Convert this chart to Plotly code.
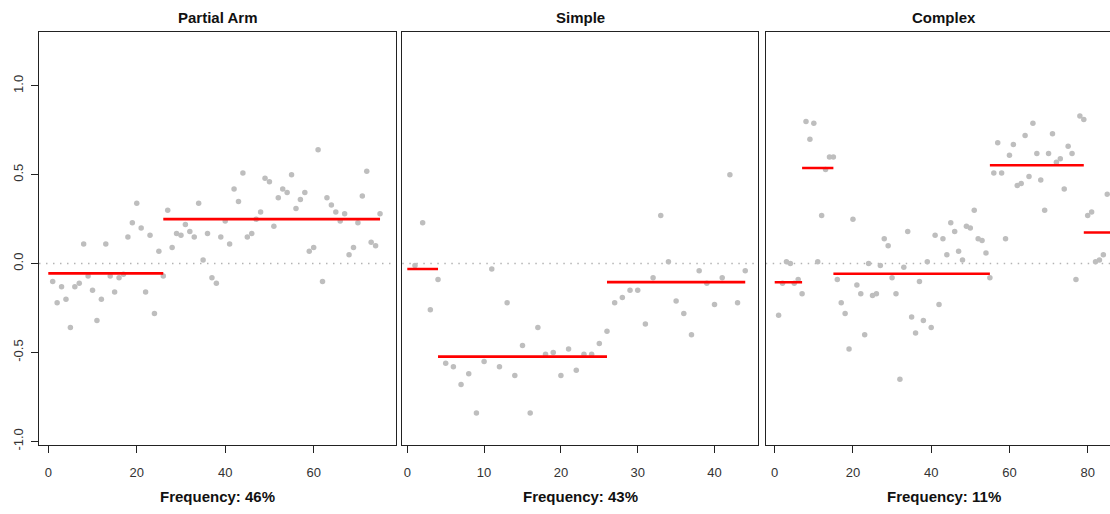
import plotly.graph_objects as go

# ---------------- data ----------------
panel_titles = ["Partial Arm", "Simple", "Complex"]
frequency_labels = ["Frequency: 46%", "Frequency: 43%", "Frequency: 11%"]

partial_arm_vals = [
    -0.10, -0.22, -0.13, -0.20, -0.36, -0.13, -0.11, 0.11, -0.07, -0.15,
    -0.32, -0.20, 0.11, -0.07, -0.16, -0.08, -0.06, 0.15, 0.23, 0.34,
    0.20, -0.16, 0.16, -0.28, 0.07, -0.07, 0.30, 0.09, 0.17, 0.16,
    0.22, 0.18, 0.15, 0.34, 0.02, 0.17, -0.08, -0.11, 0.15, 0.24,
    0.11, 0.42, 0.35, 0.51, 0.15, 0.17, 0.25, 0.29, 0.48, 0.46,
    0.21, 0.37, 0.42, 0.40, 0.50, 0.31, 0.36, 0.40, 0.07, 0.09,
    0.64, -0.10, 0.37, 0.33, 0.29, 0.24, 0.28, 0.05, 0.09, 0.23,
    0.38, 0.52, 0.12, 0.10, 0.28,
]
simple_vals = [
    -0.01, 0.23, -0.26, -0.09, -0.56, -0.58, -0.68, -0.62, -0.84, -0.55,
    -0.03, -0.58, -0.22, -0.63, -0.46, -0.84, -0.36, -0.51, -0.50, -0.63,
    -0.48, -0.60, -0.51, -0.51, -0.45, -0.38, -0.22, -0.19, -0.15, -0.15,
    -0.34, -0.08, 0.27, 0.01, -0.21, -0.28, -0.40, -0.04, -0.11, -0.23,
    -0.08, 0.50, -0.22, -0.04,
]
complex_vals = [
    -0.29, -0.11, 0.01, 0.00, -0.11, -0.09, -0.17, 0.80, 0.70, 0.79,
    0.01, 0.27, 0.53, 0.60, 0.60, -0.09, -0.22, -0.28, -0.48, 0.25,
    -0.12, -0.17, -0.40, 0.00, -0.18, -0.17, -0.01, 0.14, 0.10, -0.08,
    -0.17, -0.65, -0.02, 0.18, -0.30, -0.39, -0.10, -0.32, 0.01, -0.36,
    0.16, -0.23, 0.14, 0.05, 0.23, 0.18, 0.07, 0.02, 0.21, 0.20,
    0.30, 0.14, 0.13, 0.06, -0.08, 0.51, 0.68, 0.51, 0.14, 0.61,
    0.67, 0.44, 0.45, 0.72, 0.49, 0.79, 0.62, 0.47, 0.30, 0.62,
    0.73, 0.57, 0.59, 0.42, 0.66, 0.62, -0.09, 0.83, 0.81, 0.27,
    0.29, 0.01, 0.02, 0.05, 0.39,
]

partial_seg_start = [0, 26]
partial_seg_end = [26, 75]
partial_seg_level = [-0.055, 0.25]

simple_seg_start = [0, 4, 26]
simple_seg_end = [4, 26, 44]
simple_seg_level = [-0.03, -0.523, -0.104]

complex_seg_start = [0, 7, 15, 55, 79]
complex_seg_end = [7, 15, 55, 79, 90]
complex_seg_level = [-0.105, 0.538, -0.057, 0.553, 0.175]

x_tickvals = [[0, 20, 40, 60], [0, 10, 20, 30, 40], [0, 20, 40, 60, 80]]
y_tickvals = [-1.0, -0.5, 0.0, 0.5, 1.0]
y_ticktext = ["-1.0", "-0.5", "0.0", "0.5", "1.0"]

# ---------------- figure ----------------
W, H = 1110, 514
FONT = "Liberation Sans, Arial, Helvetica, sans-serif"

panels = [
    (partial_arm_vals, partial_seg_start, partial_seg_end, partial_seg_level),
    (simple_vals, simple_seg_start, simple_seg_end, simple_seg_level),
    (complex_vals, complex_seg_start, complex_seg_end, complex_seg_level),
]

x_domains = [[39 / W, 395.5 / W], [402.3 / W, 758.3 / W], [765.7 / W, 1.0]]
x_ranges = [[-2.1, 78.5], [-0.65, 45.7], [-2.3, 85.7]]
title_centers = [217.3 / W, 580.3 / W, 943.7 / W]
y_domain = [1 - 450 / H, 1 - 32 / H]
y_range = [-1.019, 1.305]

fig = go.Figure()

for i, (vals, s0, s1, lvl) in enumerate(panels):
    xa = "x" if i == 0 else f"x{i+1}"
    ya = "y" if i == 0 else f"y{i+1}"
    idx = list(range(1, len(vals) + 1))
    fig.add_trace(go.Scatter(
        x=idx, y=vals, mode="markers",
        marker=dict(color="#bebebe", size=5.5, line=dict(width=0)),
        xaxis=xa, yaxis=ya, showlegend=False, hoverinfo="x+y",
    ))
    sx, sy = [], []
    for a, b, v in zip(s0, s1, lvl):
        sx += [a, b, None]
        sy += [v, v, None]
    fig.add_trace(go.Scatter(
        x=sx, y=sy, mode="lines",
        line=dict(color="#ff0000", width=2.6),
        xaxis=xa, yaxis=ya, showlegend=False, hoverinfo="skip",
    ))
    # dotted zero reference line
    fig.add_shape(
        type="line", xref=f"{xa} domain", yref=ya,
        x0=0, x1=1, y0=0, y1=0,
        line=dict(color="#b4b4b4", width=1.5, dash="1.5px,5.5px"),
        layer="below",
    )
    fig.add_annotation(
        x=title_centers[i], y=1 - 18 / H, xref="paper", yref="paper",
        text=f"<b>{panel_titles[i]}</b>", showarrow=False,
        font=dict(family=FONT, size=15, color="#111"),
        xanchor="center", yanchor="middle",
    )
    fig.add_annotation(
        x=title_centers[i], y=1 - 502 / H, xref="paper", yref="paper",
        text=f"<b>{frequency_labels[i]}</b>", showarrow=False,
        font=dict(family=FONT, size=15, color="#111"),
        xanchor="center", yanchor="middle",
    )

    xaxis = dict(
        domain=x_domains[i], range=x_ranges[i], anchor=ya,
        tickvals=x_tickvals[i], ticks="outside", ticklen=7, tickwidth=1,
        tickcolor="#222", showline=True, linecolor="#222", linewidth=1,
        mirror=True, showgrid=False, zeroline=False,
        ticklabelstandoff=9,
        tickfont=dict(family=FONT, size=13, color="#333"),
    )
    yaxis = dict(
        domain=y_domain, range=y_range, anchor=xa,
        showline=True, linecolor="#222", linewidth=1,
        mirror=(i < 2), showgrid=False, zeroline=False,
    )
    if i == 0:
        yaxis.update(
            tickvals=y_tickvals, ticktext=y_ticktext, ticks="outside",
            ticklen=7, tickwidth=1, tickcolor="#222", tickangle=-90,
            ticklabelstandoff=3,
            tickfont=dict(family=FONT, size=13, color="#333"),
        )
    else:
        yaxis.update(showticklabels=False, ticks="")
    key = "" if i == 0 else str(i + 1)
    fig.update_layout(**{f"xaxis{key}": xaxis, f"yaxis{key}": yaxis})

fig.update_layout(
    width=W, height=H,
    margin=dict(l=0, r=0, t=0, b=0),
    paper_bgcolor="white", plot_bgcolor="white",
    font=dict(family=FONT),
    showlegend=False,
)

fig.write_html("out.html", config={"displayModeBar": False})
